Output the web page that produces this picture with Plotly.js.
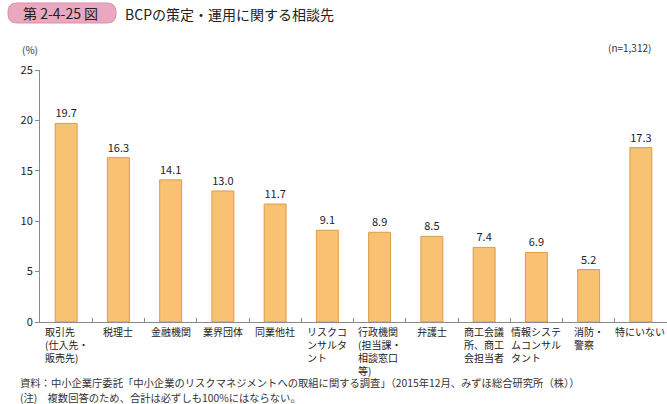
<!DOCTYPE html>
<html>
<head>
<meta charset="utf-8">
<script src="https://cdn.plot.ly/plotly-3.0.1.min.js"></script>
<style>html,body{margin:0;padding:0;background:#fff;}#chart{width:667px;height:404px;}</style>
</head>
<body>
<div id="chart"></div>
<script>
const categories = [
  "取引先<br>(仕入先・<br>販売先)",
  "税理士",
  "金融機関",
  "業界団体",
  "同業他社",
  "リスクコ<br>ンサルタ<br>ント",
  "行政機関<br>(担当課・<br>相談窓口<br>等)",
  "弁護士",
  "商工会議<br>所、商工<br>会担当者",
  "情報システ<br>ムコンサル<br>タント",
  "消防・<br>警察",
  "特にいない"
];
const values = [19.7, 16.3, 14.1, 13.0, 11.7, 9.1, 8.9, 8.5, 7.4, 6.9, 5.2, 17.3];
const yTicks = [0, 5, 10, 15, 20, 25];
const figTitle = "第 2-4-25 図";
const mainTitle = "BCPの策定・運用に関する相談先";
const unitLabel = "(%)";
const nLabel = "(n=1,312)";
const sourceNote = "資料：中小企業庁委託「中小企業のリスクマネジメントへの取組に関する調査」（2015年12月、みずほ総合研究所（株））";
const note = "(注)　複数回答のため、合計は必ずしも100%にはならない。";

const FONT = "Noto Sans CJK JP, Noto Sans, sans-serif";
const L = 40, R = 667, T = 70, B = 322;
const W = R - L, H = B - T;
const px = x => (x - L) / W;
const py = y => (B - y) / H;

function roundRect(x0, y0, x1, y1, r) {
  const X0 = px(x0), X1 = px(x1), Y0 = py(y0), Y1 = py(y1);
  const rx = r / W, ry = r / H;
  return `M ${X0 + rx} ${Y0} L ${X1 - rx} ${Y0} Q ${X1} ${Y0} ${X1} ${Y0 - ry} ` +
         `L ${X1} ${Y1 + ry} Q ${X1} ${Y1} ${X1 - rx} ${Y1} L ${X0 + rx} ${Y1} ` +
         `Q ${X0} ${Y1} ${X0} ${Y1 + ry} L ${X0} ${Y0 - ry} Q ${X0} ${Y0} ${X0 + rx} ${Y0} Z`;
}

const idx = categories.map((c, i) => i);

const trace = {
  type: "bar",
  x: idx,
  y: values,
  width: 0.42,
  marker: {color: "#F9C172", line: {color: "#DE9B48", width: 1}},
  text: values.map(v => v.toFixed(1)),
  textposition: "outside",
  textfont: {family: FONT, size: 11, color: "#222"},
  cliponaxis: false,
  hoverinfo: "skip"
};

const annotations = categories.map((c, i) => ({
  x: i, y: 0, xref: "x", yref: "paper",
  text: c, showarrow: false, align: "left",
  xanchor: "center", yanchor: "top", yshift: -1, borderpad: 0,
  xshift: i === categories.length - 1 ? -1 : 0,
  font: {family: FONT, size: 10, color: "#222"}
}));

annotations.push(
  {x: px(123), y: py(14), xref: "paper", yref: "paper", xanchor: "left", yanchor: "middle",
   text: mainTitle, showarrow: false, font: {family: FONT, size: 14, color: "#222"}},
  {x: px(60), y: py(13), xref: "paper", yref: "paper", xanchor: "center", yanchor: "middle",
   text: figTitle, showarrow: false, font: {family: FONT, size: 14, color: "#222"}},
  {x: px(30), y: py(49), xref: "paper", yref: "paper", xanchor: "center", yanchor: "middle",
   text: unitLabel, showarrow: false, font: {family: FONT, size: 10, color: "#333"}},
  {x: px(653), y: py(47), xref: "paper", yref: "paper", xanchor: "right", yanchor: "middle",
   text: nLabel, showarrow: false, font: {family: FONT, size: 10, color: "#333"}},
  {x: px(19), y: py(382), xref: "paper", yref: "paper", xanchor: "left", yanchor: "middle",
   text: sourceNote, showarrow: false, borderpad: 0, font: {family: FONT, size: 10.3, color: "#333"}},
  {x: px(19), y: py(397), xref: "paper", yref: "paper", xanchor: "left", yanchor: "middle",
   text: note, showarrow: false, borderpad: 0, font: {family: FONT, size: 10.3, color: "#333"}}
);

const layout = {
  width: 667, height: 404,
  margin: {l: L, r: 667 - R, t: T, b: 404 - B, pad: 0},
  paper_bgcolor: "#fff", plot_bgcolor: "#fff",
  showlegend: false,
  font: {family: FONT, color: "#222"},
  xaxis: {
    type: "linear", range: [-0.5, 11.5], showgrid: false, zeroline: false,
    showline: true, linecolor: "#8a8a8a", linewidth: 1,
    tickvals: idx.map(i => i - 0.5).concat([11.5]), ticks: "inside", ticklen: 4, tickcolor: "#8a8a8a",
    showticklabels: false, fixedrange: true
  },
  yaxis: {
    range: [0, 25], tickvals: yTicks, showgrid: false, zeroline: false,
    showline: true, linecolor: "#8a8a8a", linewidth: 1,
    ticks: "outside", ticklen: 4, tickcolor: "#8a8a8a",
    tickfont: {family: FONT, size: 11, color: "#222"}, fixedrange: true
  },
  shapes: [{
    type: "path", xref: "paper", yref: "paper",
    path: roundRect(8, 3, 116, 23, 9),
    fillcolor: "#E9A8BF", line: {color: "#D98FAA", width: 1}, layer: "below"
  }],
  annotations: annotations
};

Plotly.newPlot("chart", [trace], layout, {displayModeBar: false, staticPlot: true});
</script>
</body>
</html>
